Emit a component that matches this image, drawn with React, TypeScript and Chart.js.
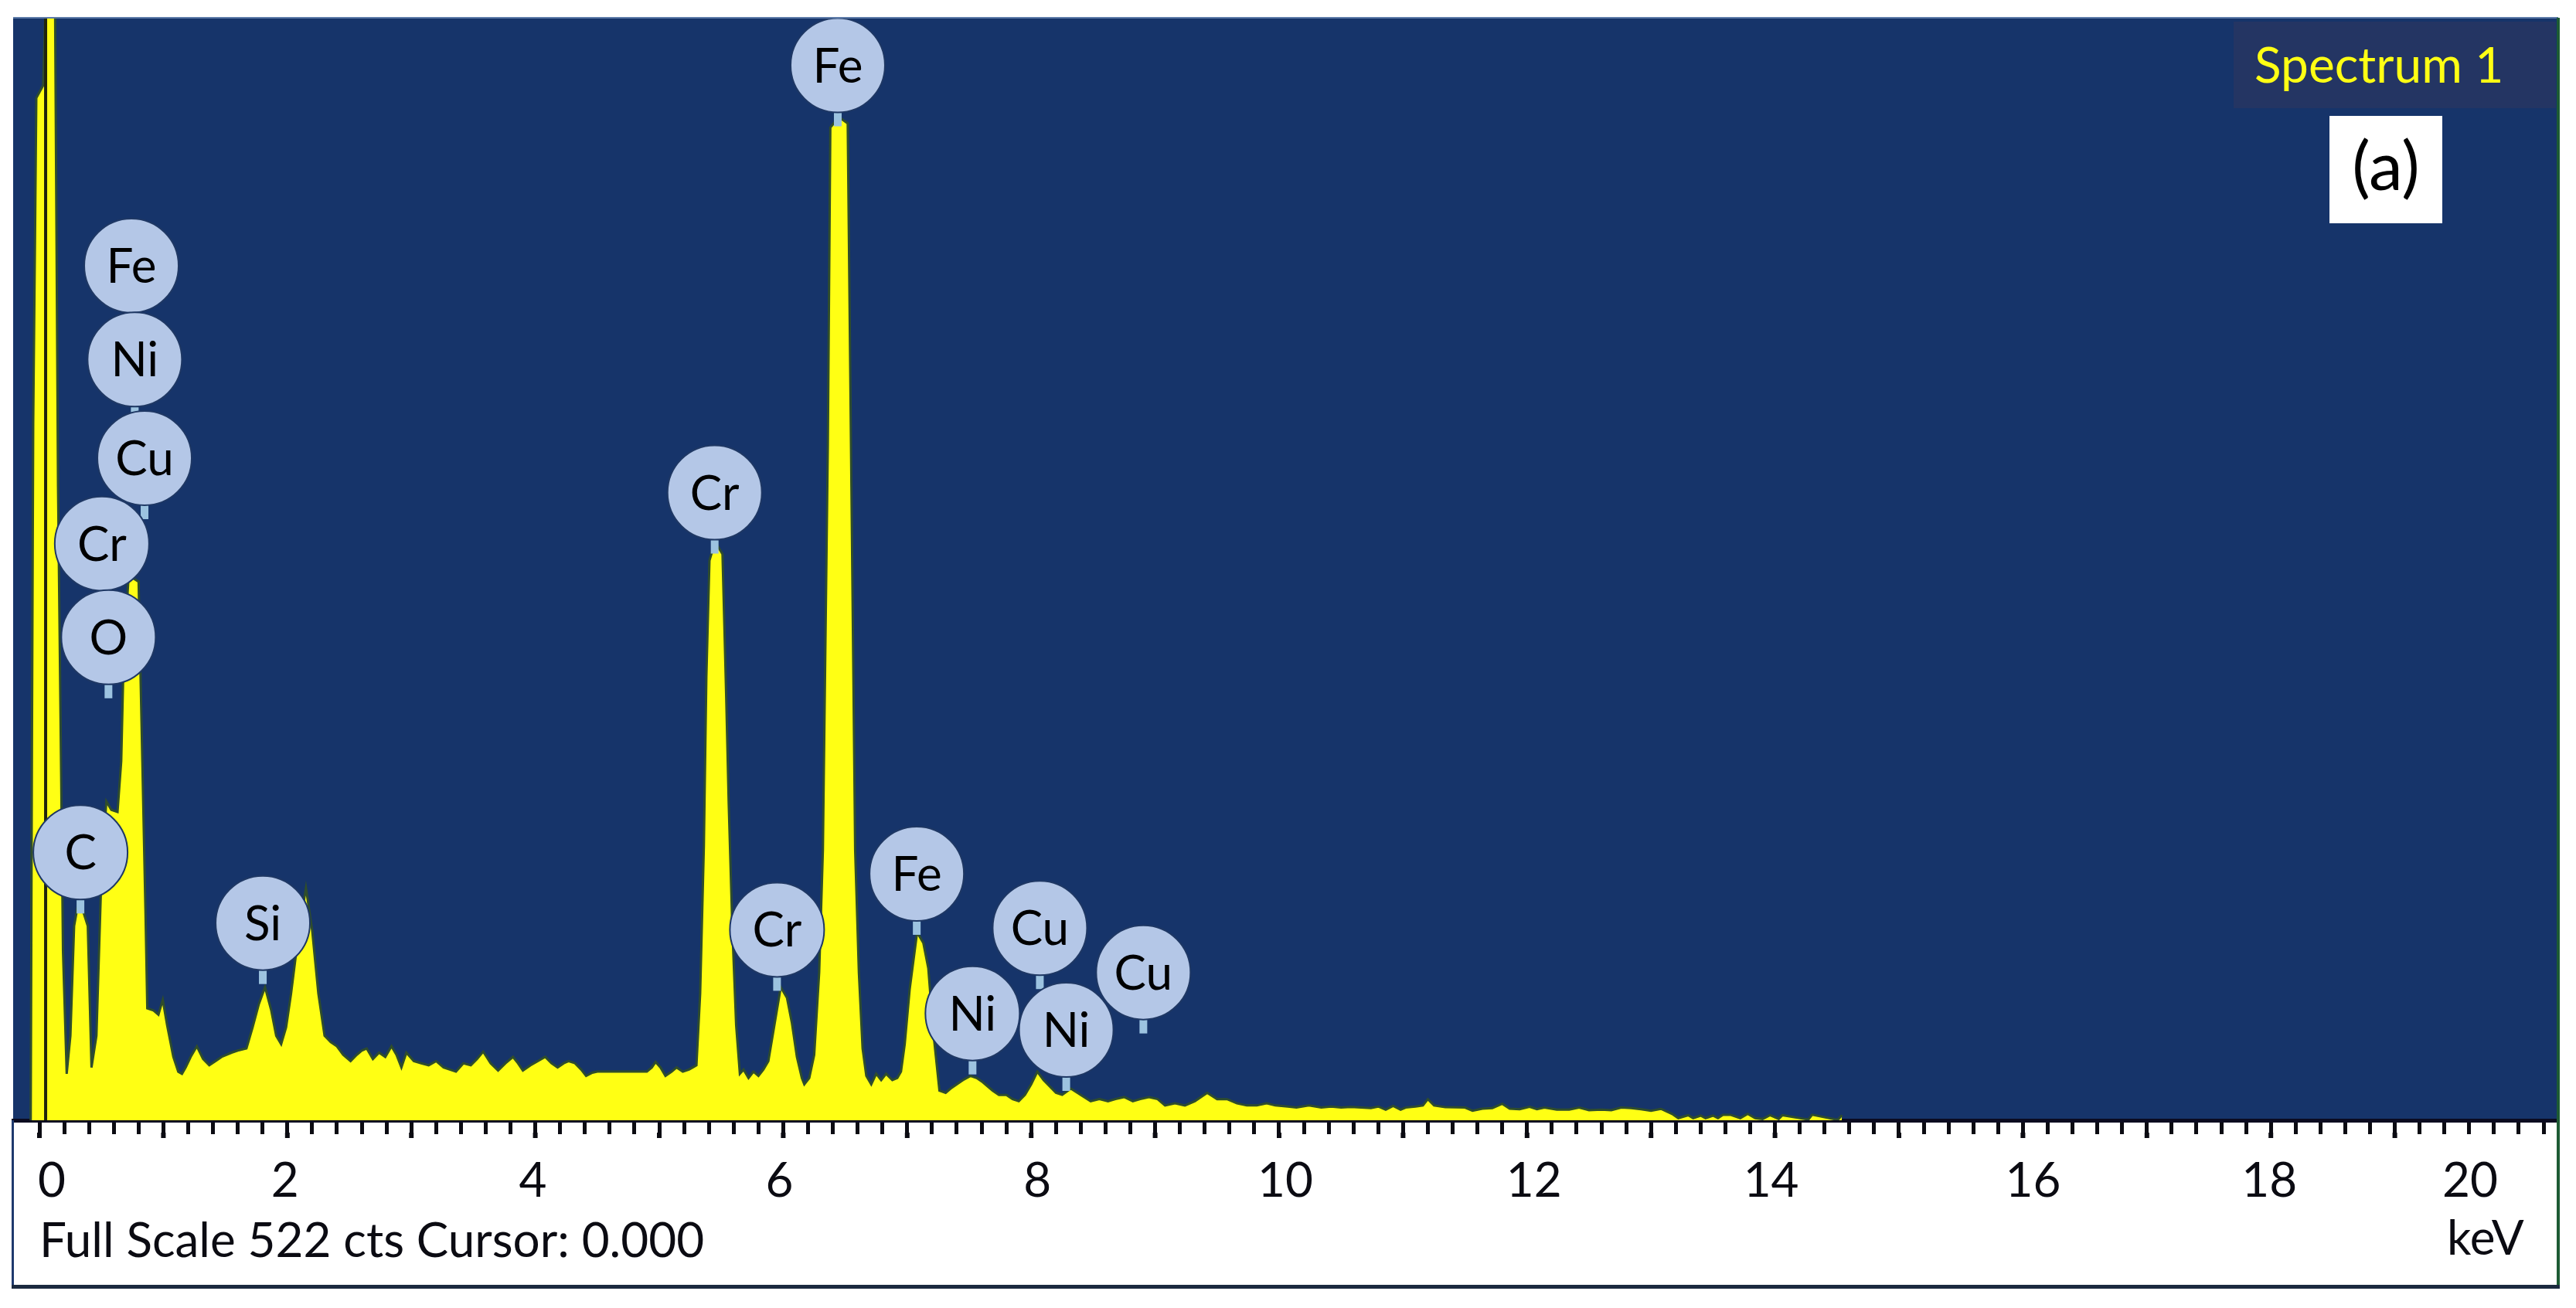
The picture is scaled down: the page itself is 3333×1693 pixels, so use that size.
import React, { useEffect, useRef } from 'react'
import { Chart, registerables } from 'chart.js'

Chart.register(...registerables)

// spectrum, keV and counts
const energies = [
  -0.07, -0.06, -0.05, -0.035, -0.025, 0.03, 0.056, 0.125, 0.15, 0.175, 0.19, 0.22, 0.25, 0.28, 0.32, 0.39, 0.42, 0.46,
  0.5, 0.54, 0.58, 0.63, 0.66, 0.68, 0.72, 0.8, 0.83, 0.855, 0.87, 0.92, 0.96, 0.995, 1.03, 1.08, 1.12, 1.15, 1.18, 1.22,
  1.27, 1.32, 1.37, 1.42, 1.47, 1.55, 1.6, 1.67, 1.72, 1.77, 1.82, 1.87, 1.91, 1.95, 1.99, 2.03, 2.09, 2.15, 2.2, 2.25,
  2.3, 2.35, 2.4, 2.45, 2.51, 2.56, 2.6, 2.64, 2.69, 2.74, 2.79, 2.84, 2.88, 2.92, 2.96, 3.02, 3.08, 3.14, 3.2, 3.26,
  3.31, 3.36, 3.42, 3.48, 3.53, 3.58, 3.64, 3.7, 3.76, 3.82, 3.86, 3.9, 3.96, 4.02, 4.08, 4.13, 4.18, 4.23, 4.27, 4.32,
  4.37, 4.41, 4.46, 4.5, 4.7, 4.9, 4.94, 4.97, 5.01, 5.05, 5.1, 5.14, 5.19, 5.24, 5.27, 5.3, 5.33, 5.36, 5.38, 5.405,
  5.45, 5.51, 5.54, 5.56, 5.59, 5.62, 5.65, 5.68, 5.72, 5.76, 5.8, 5.84, 5.88, 5.92, 5.98, 6.03, 6.07, 6.11, 6.15, 6.17,
  6.21, 6.25, 6.29, 6.32, 6.36, 6.38, 6.45, 6.52, 6.55, 6.58, 6.61, 6.64, 6.67, 6.71, 6.75, 6.79, 6.83, 6.88, 6.92, 6.95,
  6.98, 7.02, 7.08, 7.13, 7.17, 7.21, 7.26, 7.31, 7.35, 7.4, 7.45, 7.51, 7.56, 7.61, 7.65, 7.69, 7.74, 7.8, 7.85, 7.9,
  7.95, 8.0, 8.05, 8.1, 8.15, 8.2, 8.25, 8.32, 8.4, 8.48, 8.55, 8.62, 8.68, 8.75, 8.82, 8.88, 8.95, 9.02, 9.08, 9.16,
  9.24, 9.32, 9.42, 9.5, 9.58, 9.66, 9.74, 9.82, 9.9, 9.97, 10.07, 10.14, 10.24, 10.34, 10.42, 10.5, 10.58, 10.66, 10.74,
  10.8, 10.86, 10.92, 10.98, 11.02, 11.1, 11.16, 11.2, 11.25, 11.34, 11.5, 11.56, 11.64, 11.72, 11.8, 11.86, 11.94, 12.02,
  12.08, 12.14, 12.24, 12.34, 12.42, 12.5, 12.6, 12.68, 12.76, 12.84, 12.92, 13.0, 13.08, 13.17, 13.22, 13.3, 13.34, 13.4,
  13.44, 13.5, 13.54, 13.58, 13.64, 13.72, 13.78, 13.84, 13.9, 13.96, 14.03, 14.06, 14.24, 14.27, 14.3, 14.48, 14.51, 14.54,
]
const counts = [
  0, 180, 330, 420, 484, 490, 540, 540, 300, 165, 80, 22, 40, 92, 105, 92, 25, 40,
  116, 151, 147, 146, 170, 220, 258, 255, 170, 100, 53, 52, 50, 57, 45, 30, 23, 22, 25, 30,
  35, 29, 26, 28, 30, 32, 33, 34, 44, 55, 63, 52, 40, 36, 44, 60, 88, 110, 90, 60,
  40, 37, 35, 31, 28, 31, 33, 34, 29, 32, 30, 35, 31, 25, 32, 28, 27, 26, 28, 25,
  24, 23, 27, 26, 29, 32.5, 27, 23.5, 27, 30, 27, 23.5, 26, 28, 30, 27, 25, 27, 28, 27,
  24, 21, 22.5, 23, 23, 23, 25, 27.6, 25, 21, 23, 25, 23, 24, 25, 26, 60, 130, 210, 265,
  274, 268, 200, 150, 90, 45, 22, 24, 20, 23, 21, 24, 28, 42, 63, 58, 46, 30, 20, 17,
  20, 31, 70, 128, 320, 470, 475, 472, 300, 128, 70, 34, 21, 17, 22, 19, 22, 19, 20, 23,
  36, 62, 89, 84, 72, 42, 14, 13, 15, 17, 19, 21, 20, 18, 16, 14, 12, 12, 10, 9,
  12, 17, 23, 19, 16, 13, 12, 15, 12, 9, 10, 9, 10, 11, 9, 10, 11, 10, 7, 8,
  7, 9, 13, 10, 10, 8, 7, 7, 8, 7, 6.5, 6, 7, 6, 6.5, 6, 6.3, 6, 5.8,
  6.5, 5, 6.8, 5, 6, 6.5, 7, 10, 7, 6.2, 6, 4.5, 5.5, 5.8, 7.8, 5.5, 5.2,
  6.4, 5.2, 6, 5, 5, 6, 4.8, 5, 4.8, 6, 5.8, 5.2, 4.5, 5.4, 3, 1, 2.4, 1,
  2.2, 1, 2.2, 1, 2.6, 2.6, 1, 3, 1, 0.6, 2.4, 0.6, 2.4, 0.6, 0.4, 2.6, 0.5, 0.4, 2.4, 0.4,
]

// element markers, centre of each bubble in keV and counts
const markerLabels = ['Fe', 'Fe', 'Ni', 'Cu', 'Cr', 'O', 'C', 'Si', 'Cr', 'Cr', 'Fe', 'Cu', 'Ni', 'Ni', 'Cu']
const markerEnergies = [6.44, 0.742, 0.769, 0.848, 0.504, 0.557, 0.331, 1.802, 5.447, 5.95, 7.077, 8.07, 7.527, 8.283, 8.905]
const markerCounts = [499.5, 404.6, 360.2, 313.5, 273, 228.7, 126.8, 93.4, 297.2, 90.2, 116.7, 91, 50.6, 42.8, 70]

const tickLabels = [0, 2, 4, 6, 8, 10, 12, 14, 16, 18, 20]
const tickNudges = [16, -3, -3, -5, 8, 8, 9, -5, 13, -2, -63] // labels are not centred on their ticks in the original

const fullScale = 522
const cursorEnergy = 0.05
const spectrumTitle = 'Spectrum 1'
const panelLabel = '(a)'

const FONT = 'Lato'
const BUBBLE_R = 61

const spectrumPlugin = {
  id: 'spectrumDecor',
  beforeDraw(chart) {
    const { ctx, chartArea: a } = chart
    ctx.save()
    ctx.fillStyle = '#ffffff'
    ctx.fillRect(0, 0, chart.width, chart.height)
    ctx.fillStyle = '#16346a'
    ctx.fillRect(a.left, a.top, a.right - a.left, a.bottom - a.top)
    ctx.restore()
  },
  afterDatasetsDraw(chart) {
    const { ctx, chartArea: a, scales } = chart
    const x = scales.x
    const y = scales.y
    ctx.save()

    // bubble text
    ctx.fillStyle = '#000000'
    ctx.textAlign = 'center'
    ctx.textBaseline = 'middle'
    ctx.font = `62px ${FONT}`
    markerLabels.forEach((label, i) => {
      ctx.fillText(label, x.getPixelForValue(markerEnergies[i]), y.getPixelForValue(markerCounts[i]) + 2)
    })

    // title box top right
    ctx.fillStyle = '#243563'
    ctx.fillRect(2890, 28, 417, 112)
    ctx.fillStyle = '#ffff14'
    ctx.textAlign = 'left'
    ctx.font = `64px ${FONT}`
    ctx.fillText(spectrumTitle, 2917, 86)
    ctx.fillStyle = '#ffffff'
    ctx.fillRect(3014, 150, 146, 139)
    ctx.fillStyle = '#000000'
    ctx.textAlign = 'center'
    ctx.font = `88px ${FONT}`
    ctx.fillText(panelLabel, 3087, 218)

    // taller ticks at each keV
    ctx.fillStyle = '#0b0b12'
    for (let k = 0; k <= 19; k++) {
      ctx.fillRect(x.getPixelForValue(k) - 3, a.bottom + 16, 6, 7)
    }

    // tick labels and footer text
    ctx.font = `62px ${FONT}`
    ctx.textAlign = 'center'
    tickLabels.forEach((v, i) => {
      ctx.fillText(String(v), x.getPixelForValue(v) + tickNudges[i], 1529)
    })
    ctx.textAlign = 'left'
    ctx.font = `62px ${FONT}`
    ctx.fillText(`Full Scale ${fullScale} cts Cursor: 0.000`, 51, 1607)
    ctx.fillText('keV', 3166, 1604)

    // frame round the image
    ctx.fillStyle = '#5c7aa8'
    ctx.fillRect(a.left, a.top - 1, a.right - a.left, 2)
    ctx.fillStyle = '#1f3a6e'
    ctx.fillRect(a.left - 2, a.bottom, 3, 1666 - a.bottom)
    ctx.fillStyle = '#1d5b34'
    ctx.fillRect(a.right - 2, a.top, 4, 1666 - a.top)
    ctx.fillStyle = '#1b2a3f'
    ctx.fillRect(a.left - 2, 1663, a.right - a.left + 4, 5)
    ctx.restore()
  },
}

// the short pale sticks under each bubble
const stemPlugin = {
  id: 'markerStems',
  beforeDatasetDraw(chart, args) {
    if (args.index !== 0) return
    const { ctx, scales } = chart
    ctx.save()
    ctx.fillStyle = '#9cc3e0'
    markerEnergies.forEach((e, i) => {
      const px = scales.x.getPixelForValue(e)
      const py = scales.y.getPixelForValue(markerCounts[i])
      ctx.fillRect(px - 5, py + BUBBLE_R, 10, 18)
    })
    ctx.restore()
  },
}

const App = () => {
  const chartRef = useRef(null)

  useEffect(() => {
    const chart = new Chart(chartRef.current, {
      type: 'scatter',
      data: {
        datasets: [
          {
            // bubbles
            data: markerEnergies.map((e, i) => ({ x: e, y: markerCounts[i] })),
            pointRadius: BUBBLE_R,
            pointBackgroundColor: '#b4c7e7',
            pointBorderColor: '#1f3864',
            pointBorderWidth: 2,
            showLine: false,
            clip: false,
            order: 0,
          },
          {
            // cursor at 0 keV
            data: [
              { x: cursorEnergy, y: 0 },
              { x: cursorEnergy, y: fullScale },
            ],
            showLine: true,
            borderColor: '#20240c',
            borderWidth: 4,
            pointRadius: 0,
            order: 1,
          },
          {
            data: energies.map((e, i) => ({ x: e, y: counts[i] })),
            showLine: true,
            fill: 'origin',
            backgroundColor: '#ffff14',
            // dark olive fringe the peaks have in the original
            borderColor: '#2f4d2c',
            borderWidth: 3,
            pointRadius: 0,
            tension: 0,
            order: 2,
          },
        ],
      },
      options: {
        animation: false,
        responsive: false,
        devicePixelRatio: 1,
        layout: { autoPadding: false, padding: { left: 17, right: 23, top: 23, bottom: 0 } },
        plugins: { legend: { display: false }, tooltip: { enabled: false } },
        scales: {
          x: {
            type: 'linear',
            min: -0.212,
            max: 20.318,
            afterBuildTicks: (s) => {
              s.ticks = s.ticks.filter((t) => t.value > -0.05)
            },
            afterFit: (s) => {
              s.height = 243
            },
            ticks: { stepSize: 0.2, includeBounds: false, display: false, autoSkip: false },
            grid: { drawOnChartArea: false, drawTicks: true, tickLength: 18, tickWidth: 5, tickColor: '#0b0b12' },
            border: { display: true, color: '#0b0b20', width: 5 },
          },
          y: { display: false, min: 0, max: fullScale },
        },
      },
      plugins: [stemPlugin, spectrumPlugin],
    })
    return () => {
      chart.destroy()
    }
  }, [])

  return (
    <div style={{ position: 'absolute', left: 0, top: 0, width: 3333, height: 1693 }}>
      <canvas ref={chartRef} width={3333} height={1693} style={{ width: 3333, height: 1693, display: 'block' }}></canvas>
    </div>
  )
}

export default App
